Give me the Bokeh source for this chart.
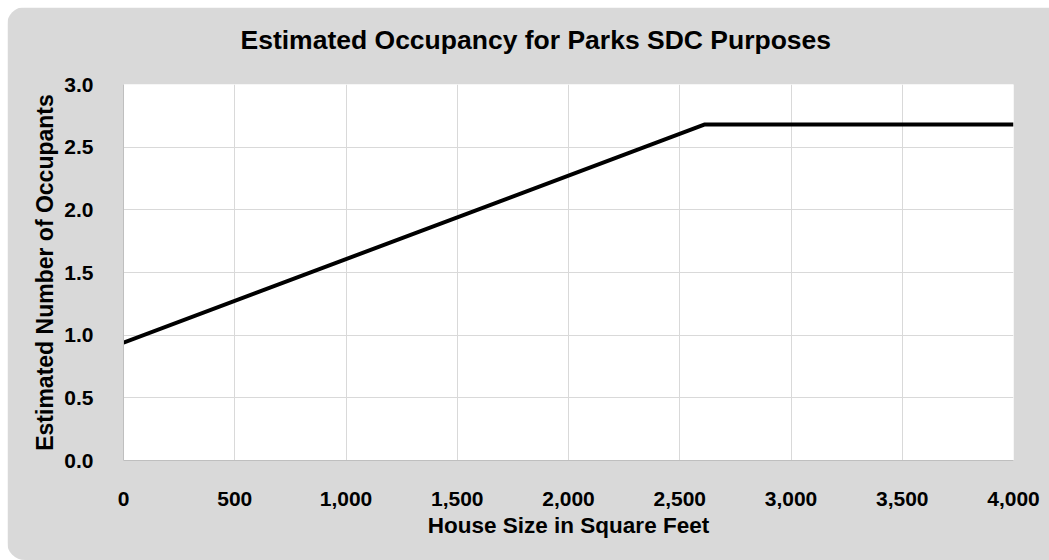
from bokeh.plotting import figure
from bokeh.models import Range1d, FixedTicker, NumeralTickFormatter, Title
from bokeh.embed import file_html
from bokeh.resources import INLINE

house_size = [0, 2610, 4000]
occupants = [0.94, 2.68, 2.68]
x_ticks = [0, 500, 1000, 1500, 2000, 2500, 3000, 3500, 4000]
y_ticks = [0.0, 0.5, 1.0, 1.5, 2.0, 2.5, 3.0]
title_text = "Estimated Occupancy for Parks SDC Purposes"

FONT = "'Liberation Sans Narrow', 'Arial Narrow', 'Liberation Sans', sans-serif"
BG = "#d9d9d9"

p = figure(width=1042, height=553, output_backend="svg", toolbar_location=None,
           x_range=Range1d(0, 4000), y_range=Range1d(0, 3.0),
           min_border_left=116, min_border_right=36, min_border_top=77, min_border_bottom=100)
p.margin = (7, 0, 0, 7)
p.styles = {"border-radius": "18px 0 0 18px", "overflow": "hidden"}
p.border_fill_color = BG
p.background_fill_color = "white"
p.outline_line_color = None

p.title.text = ""
p.title.standoff = 0

spacer = Title(text=" ", text_font_size="2px", standoff=12)
p.add_layout(spacer, "above")
main_title = Title(text=title_text, align="left", offset=117, standoff=27,
                   text_font=FONT, text_font_size="26.5px", text_font_style="bold",
                   text_color="black")
p.add_layout(main_title, "above")

p.line(house_size, occupants, line_color="black", line_width=4)

p.xaxis.ticker = FixedTicker(ticks=x_ticks)
p.yaxis.ticker = FixedTicker(ticks=y_ticks)
p.xaxis.formatter = NumeralTickFormatter(format="0,0")
p.yaxis.formatter = NumeralTickFormatter(format="0.0")
p.xaxis.axis_label = "House Size in Square Feet"
p.yaxis.axis_label = "Estimated Number of Occupants"

for ax in (p.xaxis[0], p.yaxis[0]):
    ax.axis_line_color = "#bfbfbf"
    ax.axis_line_width = 1
    ax.major_tick_line_color = None
    ax.minor_tick_line_color = None
    ax.major_label_text_font = FONT
    ax.major_label_text_font_size = "21px"
    ax.major_label_text_font_style = "bold"
    ax.major_label_text_color = "black"
    ax.axis_label_text_font = FONT
    ax.axis_label_text_font_style = "bold"
    ax.axis_label_text_color = "black"

p.xaxis.axis_label_text_font_size = "22.5px"
p.yaxis.axis_label_text_font_size = "23px"
p.xaxis.major_label_standoff = 25
p.yaxis.major_label_standoff = 24
p.xaxis.axis_label_standoff = 4
p.yaxis.axis_label_standoff = 3

p.xgrid.grid_line_color = "#d9d9d9"
p.ygrid.grid_line_color = "#d9d9d9"

open("out.html", "w").write(file_html(p, INLINE))
